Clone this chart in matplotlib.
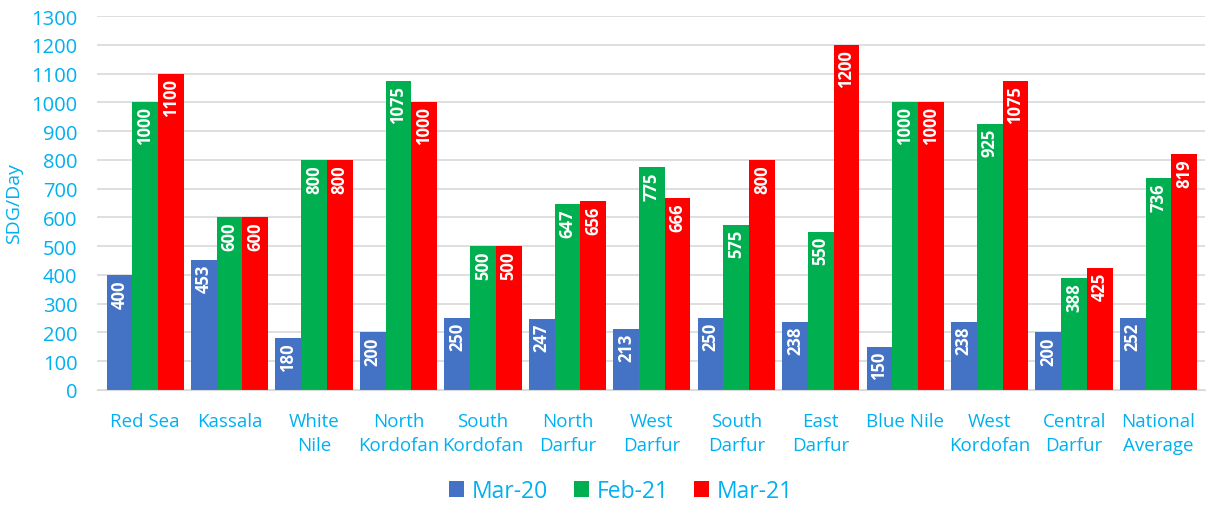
import numpy as np
import matplotlib
matplotlib.use("Agg")
from matplotlib import pyplot as plt

regions = ["Red Sea", "Kassala", "White\nNile", "North\nKordofan", "South\nKordofan",
           "North\nDarfur", "West\nDarfur", "South\nDarfur", "East\nDarfur", "Blue Nile",
           "West\nKordofan", "Central\nDarfur", "National\nAverage"]
series_names = ["Mar-20", "Feb-21", "Mar-21"]
mar20 = [400, 453, 180, 200, 250, 247, 213, 250, 238, 150, 238, 200, 252]
feb21 = [1000, 600, 800, 1075, 500, 647, 775, 575, 550, 1000, 925, 388, 736]
mar21 = [1100, 600, 800, 1000, 500, 656, 666, 800, 1200, 1000, 1075, 425, 819]
y_ticks = list(range(0, 1400, 100))

colors = ["#4472C4", "#00B050", "#FF0000"]
text_color = "#00B0F0"
font = "Open Sans"

fig = plt.figure(figsize=(12.07, 5.10), dpi=100)
ax = fig.add_axes([97 / 1207, 1 - 391 / 510, 1108 / 1207, 374 / 510])

x = np.arange(len(regions))
w = 0.305
for k, (name, vals) in enumerate(zip(series_names, [mar20, feb21, mar21])):
    bars = ax.bar(x + (k - 1) * w, vals, width=w, color=colors[k], label=name,
                  linewidth=0, zorder=2)
    for b, v in zip(bars, vals):
        t = ax.annotate(str(v), (b.get_x() + b.get_width() / 2, v),
                        xytext=(0, -3), textcoords="offset points",
                        rotation=90, ha="center", va="top", color="white",
                        fontsize=12, fontweight="bold", family=font, zorder=3)
        t.set_clip_path(b)

ax.set_xlim(-0.57, len(regions) - 0.45)
ax.set_ylim(0, 1300)
ax.set_yticks(y_ticks)
ax.set_xticks(x)
ax.set_xticklabels(regions, color=text_color, fontsize=13.5, family=font,
                   linespacing=1.4, va="top")
ax.tick_params(axis="y", colors=text_color, labelsize=14.5, length=0, pad=14)
ax.tick_params(axis="x", length=0, pad=16)
for lbl in ax.get_yticklabels():
    lbl.set_family(font)
ax.grid(axis="y", color="#D9D9D9", linewidth=1.2, zorder=0)
ax.set_axisbelow(True)
for s in ["top", "right", "left"]:
    ax.spines[s].set_visible(False)
ax.spines["bottom"].set_color("#D9D9D9")
ax.set_ylabel("SDG/Day", color=text_color, fontsize=14, family=font, labelpad=6)

leg = fig.legend(loc="center", bbox_to_anchor=(621 / 1207, 1 - 492 / 510), ncol=3,
                 frameon=False, handlelength=0.65, handleheight=0.65,
                 handletextpad=0.35, columnspacing=1.1,
                 prop={"family": font, "size": 16.5})
for t in leg.get_texts():
    t.set_color(text_color)

fig.savefig("out.png", dpi=100)
